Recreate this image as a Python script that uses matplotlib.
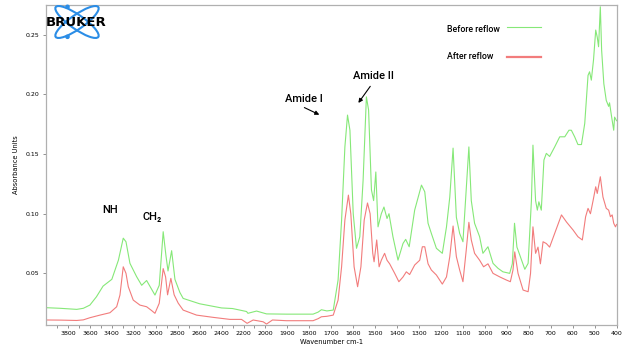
import numpy as np
import matplotlib
matplotlib.use("Agg")
import matplotlib.pyplot as plt
from matplotlib.patches import Ellipse, Circle
from matplotlib.lines import Line2D

# FTIR absorbance, before and after reflow
wn_before = [3995, 3870, 3720, 3660, 3600, 3540, 3480, 3400, 3340, 3296, 3271, 3235,
             3174, 3128, 3083, 3040, 3007, 2968, 2932, 2907, 2888, 2855, 2825, 2780,
             2750, 2600, 2400, 2300, 2172, 2160, 2081, 1995, 1904, 1783, 1760, 1745,
             1720, 1691, 1669, 1653, 1638, 1626, 1615, 1600, 1585, 1570, 1555, 1540,
             1530, 1517, 1507, 1497, 1487, 1472, 1460, 1446, 1437, 1419, 1396, 1373,
             1361, 1345, 1320, 1305, 1289, 1274, 1259, 1244, 1221, 1194, 1175, 1160,
             1145, 1130, 1115, 1100, 1085, 1073, 1062, 1047, 1024, 1009, 986, 963,
             940, 918, 887, 875, 865, 854, 849, 818, 803, 788, 781, 769, 761, 754,
             743, 731, 720, 705, 682, 659, 636, 617, 606, 591, 576, 560, 545, 530,
             523, 515, 505, 495, 488, 482, 474, 468, 458, 447, 436, 432, 424, 413,
             409, 400]
abs_before = [0.0212, 0.0207, 0.0198, 0.0207, 0.0234, 0.0304, 0.0393, 0.0450, 0.0611,
              0.0795, 0.0765, 0.0584, 0.0472, 0.0400, 0.0440, 0.0370, 0.0318, 0.0400,
              0.0849, 0.0650, 0.0520, 0.0690, 0.0450, 0.0340, 0.0290, 0.0245, 0.0210,
              0.0205, 0.0180, 0.0165, 0.0184, 0.0160, 0.0158, 0.0158, 0.0175, 0.0195,
              0.0185, 0.0192, 0.0444, 0.0947, 0.1560, 0.1827, 0.1700, 0.1000, 0.0710,
              0.0807, 0.1280, 0.1980, 0.1870, 0.1200, 0.1110, 0.1350, 0.0890, 0.1000,
              0.1056, 0.0960, 0.1000, 0.0807, 0.0611, 0.0751, 0.0785, 0.0723, 0.1030,
              0.1130, 0.1240, 0.1184, 0.0920, 0.0835, 0.0710, 0.0668, 0.0890, 0.1140,
              0.1550, 0.0970, 0.0835, 0.0765, 0.1200, 0.1560, 0.1110, 0.0920, 0.0807,
              0.0668, 0.0723, 0.0584, 0.0542, 0.0513, 0.0500, 0.0580, 0.0920, 0.0720,
              0.0695, 0.0534, 0.0584, 0.1110, 0.1575, 0.1110, 0.1030, 0.1100, 0.1030,
              0.1450, 0.1506, 0.1480, 0.1560, 0.1645, 0.1645, 0.1700, 0.1700, 0.1645,
              0.1580, 0.1580, 0.1757, 0.2160, 0.2190, 0.2120, 0.2290, 0.2540, 0.2480,
              0.2400, 0.2735, 0.2370, 0.2090, 0.1950, 0.1900, 0.1930, 0.1830, 0.1700,
              0.1810, 0.1780]

wn_after = [3995, 3870, 3720, 3660, 3600, 3508, 3417, 3356, 3326, 3296, 3271, 3250,
            3205, 3144, 3083, 3040, 3007, 2968, 2932, 2910, 2892, 2862, 2832, 2795,
            2750, 2628, 2476, 2324, 2218, 2167, 2112, 2021, 1995, 1968, 1904, 1783,
            1760, 1745, 1720, 1691, 1669, 1653, 1638, 1622, 1611, 1596, 1580, 1565,
            1550, 1535, 1523, 1511, 1505, 1493, 1482, 1472, 1457, 1446, 1434, 1411,
            1392, 1373, 1358, 1343, 1320, 1297, 1285, 1274, 1259, 1244, 1221, 1194,
            1175, 1160, 1145, 1130, 1115, 1100, 1085, 1073, 1062, 1047, 1024, 1006,
            986, 963, 932, 902, 884, 872, 864, 849, 826, 803, 792, 781, 769, 758,
            747, 735, 720, 705, 682, 651, 628, 598, 576, 556, 541, 530, 519, 507,
            495, 488, 474, 462, 447, 436, 428, 420, 413, 405, 400]
abs_after = [0.0109, 0.0108, 0.0105, 0.0110, 0.0128, 0.0150, 0.0170, 0.0220, 0.0318,
             0.0555, 0.0500, 0.0388, 0.0276, 0.0234, 0.0220, 0.0190, 0.0165, 0.0249,
             0.0540, 0.0470, 0.0320, 0.0458, 0.0320, 0.0250, 0.0192, 0.0150, 0.0131,
             0.0114, 0.0114, 0.0081, 0.0109, 0.0094, 0.0075, 0.0109, 0.0103, 0.0103,
             0.0120, 0.0136, 0.0140, 0.0150, 0.0276, 0.0555, 0.0947, 0.1156, 0.1000,
             0.0555, 0.0388, 0.0555, 0.0947, 0.1090, 0.1000, 0.0668, 0.0597, 0.0780,
             0.0555, 0.0610, 0.0668, 0.0610, 0.0580, 0.0500, 0.0430, 0.0470, 0.0513,
             0.0490, 0.0570, 0.0610, 0.0723, 0.0723, 0.0580, 0.0528, 0.0486, 0.0410,
             0.0470, 0.0640, 0.0897, 0.0640, 0.0528, 0.0430, 0.0695, 0.0928, 0.0780,
             0.0668, 0.0610, 0.0555, 0.0580, 0.0500, 0.0470, 0.0444, 0.0430, 0.0528,
             0.0680, 0.0500, 0.0360, 0.0346, 0.0500, 0.0890, 0.0668, 0.0720, 0.0580,
             0.0765, 0.0750, 0.0720, 0.0835, 0.0990, 0.0930, 0.0863, 0.0807, 0.0780,
             0.0975, 0.1045, 0.1000, 0.1110, 0.1226, 0.1170, 0.1310, 0.1140, 0.1045,
             0.1030, 0.0975, 0.0990, 0.0920, 0.0890, 0.0910]

x_ticks = [3800, 3600, 3400, 3200, 3000, 2800, 2600, 2400, 2200, 2000, 1900, 1800,
           1700, 1600, 1500, 1400, 1300, 1200, 1100, 1000, 900, 800, 700, 600, 500, 400]
x_minor = [3900, 3700, 3500, 3300, 3100, 2900, 2700, 2500, 2300, 2100]
y_ticks = [0.05, 0.10, 0.15, 0.20, 0.25]

green = "#86e878"
red = "#f27c7c"


# OPUS-style axis: below 2000 cm-1 the scale is stretched by 2
def fwd(w):
    w = np.asarray(w, dtype=float)
    return np.where(w >= 2000, w, 2 * w - 2000)


def inv(u):
    u = np.asarray(u, dtype=float)
    return np.where(u >= 2000, u, (u + 2000) / 2)


fig = plt.figure(figsize=(6.25, 3.49), dpi=100)
ax = fig.add_axes([46 / 625, 1 - 325 / 349, 571 / 625, 320 / 349])

ax.plot(wn_before, abs_before, color=green, lw=0.8)
ax.plot(wn_after, abs_after, color=red, lw=0.8)

ax.set_xscale("function", functions=(fwd, inv))
ax.set_xlim(4000, 398)
ax.set_ylim(0.0067, 0.275)
ax.set_xticks(x_ticks)
ax.set_xticklabels([str(t) for t in x_ticks])
ax.set_xticks(x_minor, minor=True)
ax.set_yticks(y_ticks)
ax.set_yticklabels([f"{t:.2f}" for t in y_ticks])
ax.tick_params(labelsize=4.5, length=2.5, width=0.5, color="#666666", pad=2)
ax.tick_params(which="minor", length=2.5, width=0.5, color="#666666")
for sp in ax.spines.values():
    sp.set_color("#b0b0b0")
    sp.set_linewidth(0.9)

ax.set_xlabel("Wavenumber cm-1", fontsize=4.8, labelpad=2)
ax.set_ylabel("Absorbance Units", fontsize=4.8, labelpad=5)

# peak labels
lab = dict(family="Roboto", fontsize=8, color="black", fontweight="medium")
ax.text(3417, 0.103, "NH", ha="center", va="center", **lab)
ax.text(3032, 0.097, "CH₂", ha="center", va="center", **lab)
ax.text(1825, 0.196, "Amide I", ha="center", va="center", **lab)
ax.text(1506, 0.2154, "Amide II", ha="center", va="center", **lab)
arrow = dict(arrowstyle="-|>", color="black", lw=0.8, mutation_scale=6)
ax.annotate("", xy=(1743, 0.182), xytext=(1834, 0.190), arrowprops=arrow)
ax.annotate("", xy=(1584, 0.191), xytext=(1515, 0.2087), arrowprops=arrow)

# legend drawn by hand
leg = dict(family="Roboto", fontsize=6.3, color="black", transform=ax.transAxes,
           ha="left", va="center", fontweight="medium")
ax.text(0.702, 0.924, "Before reflow", **leg)
ax.text(0.702, 0.838, "After reflow", **leg)
ax.add_line(Line2D([0.807, 0.867], [0.930, 0.930], color=green, lw=0.8,
                   transform=ax.transAxes))
ax.add_line(Line2D([0.807, 0.867], [0.838, 0.838], color=red, lw=1.6,
                   transform=ax.transAxes))

# logo
lg = fig.add_axes([44 / 625, 1 - 40 / 349, 66 / 625, 37 / 349])
lg.set_xlim(0, 66)
lg.set_ylim(37, 0)
lg.axis("off")
blue = "#2b8de6"
for ang in (35, -35):
    lg.add_patch(Ellipse((33, 19), 52, 14, angle=ang, fill=False,
                         edgecolor=blue, lw=1.5, clip_on=False))
for cx, cy in [(23.5, 3.8), (23.5, 33.8)]:
    lg.add_patch(Circle((cx, cy), 1.6, color=blue, clip_on=False))
lg.text(32.5, 19.5, "BRUKER", ha="center", va="center", fontsize=9.5,
        fontweight="heavy", color="black", family="DejaVu Sans")

fig.savefig("out.png", dpi=100)
